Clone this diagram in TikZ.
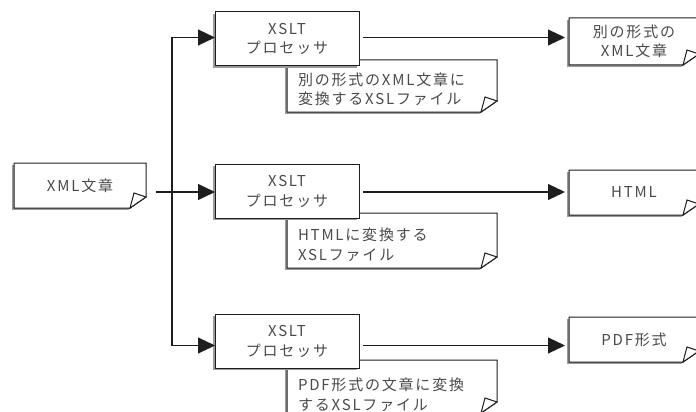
\documentclass[tikz,border=0pt]{standalone}
\usepackage{fontspec}
\newfontfamily\jpf[LetterSpace=12]{Noto Sans CJK JP}
\usetikzlibrary{arrows.meta,calc,shadows}
\definecolor{txtc}{HTML}{4A4A4A}
\definecolor{linec}{HTML}{1E1E1E}
\definecolor{shc}{HTML}{9A9A9A}
\pgfdeclarelayer{bg}
\pgfsetlayers{bg,main}
\newcommand\docframe[2]{%
  \begin{pgfonlayer}{bg}
  \fill[shc] ([shift={(-1.8pt,#2-1.8pt)}]#1.north west) -- ([shift={(-1.8pt,#2-1.8pt)}]#1.north east) -- ([shift={(-1.8pt,9.2pt)}]#1.south east) -- ([shift={(-17.8pt,-1.8pt)}]#1.south east) -- ([shift={(-1.8pt,-1.8pt)}]#1.south west) -- cycle;
  \filldraw[frame] ([yshift=#2]#1.north west) -- ([yshift=#2]#1.north east) -- ([yshift=11pt]#1.south east) -- ([xshift=-16pt]#1.south east) -- (#1.south west) -- cycle;
  \filldraw[frame] ([xshift=-16pt]#1.south east) -- ([shift={(-12pt,15pt)}]#1.south east) -- ([yshift=11pt]#1.south east) -- cycle;
  \end{pgfonlayer}}
\begin{document}
\begin{tikzpicture}[x=1pt,y=-1pt,
  lbl/.style={font=\jpf\fontsize{15}{19.5}\selectfont, text=txtc},
  docnode/.style={lbl, inner sep=0pt, outer sep=0pt, align=center, minimum width=130pt},
  notenode/.style={lbl, inner xsep=11pt, inner ysep=0pt, outer sep=0pt, align=left, text width=188pt},
  proc/.style={lbl, draw=linec, line width=1pt, fill=white, inner sep=0pt, outer sep=0pt,
    minimum width=144pt, minimum height=54pt, align=center,
    drop shadow={shadow xshift=-1.8pt, shadow yshift=-1.8pt, fill=shc, opacity=1}},
  frame/.style={draw=linec, line width=1pt, fill=white, line join=miter},
  conn/.style={draw=linec, line width=1.1pt},
  arr/.style={conn, -{Triangle[length=17pt,width=16pt]}},
]
\useasboundingbox (0,0) rectangle (696,412);

% source document
\node[docnode, minimum width=132pt, minimum height=45pt] (xml) at (80,185.5) {XML文章};
\docframe{xml}{0pt}

% notes (XSL files)
\node[notenode, minimum height=45pt] (n1) at (392,89.5) {別の形式のXML文章に\\変換するXSLファイル};
\docframe{n1}{7pt}
\node[notenode, minimum height=46pt] (n2) at (392,245) {HTMLに変換する\\XSLファイル};
\docframe{n2}{9pt}
\node[notenode, minimum height=36pt] (n3) at (392,395) {PDF形式の文章に変換\\するXSLファイル};
\docframe{n3}{17pt}

% processors
\node[proc] (p1) at (287,39) {XSLT\\プロセッサ};
\node[proc] (p2) at (287,191.5) {XSLT\\プロセッサ};
\node[proc] (p3) at (287,341.5) {XSLT\\プロセッサ};

% outputs
\node[docnode, minimum height=47pt] (o1) at (634,41.5) {別の形式の\\XML文章};
\docframe{o1}{0pt}
\node[docnode, minimum height=45pt] (o2) at (634,192.5) {HTML};
\docframe{o2}{0pt}
\node[docnode, minimum height=45pt] (o3) at (634,339.5) {PDF形式};
\docframe{o3}{0pt}

% connectors
\coordinate (j) at (172,192);
\draw[arr] ([xshift=10pt]xml.east |- j) -- (j) -- (j -| p2.west);
\draw[arr] (j) |- ($(p1.west)+(0,1.5pt)$);
\draw[arr] (j) |- ($(p3.west)+(0,-4pt)$);

\draw[arr, shorten >=4pt] ($(p1.east)+(4pt,1.5pt)$) coordinate (s1) -- (s1 -| o1.west);
\draw[arr, shorten >=4pt] ($(p2.east)+(4pt,-0.5pt)$) coordinate (s2) -- (s2 -| o2.west);
\draw[arr, shorten >=4pt] ($(p3.east)+(4pt,-4pt)$) coordinate (s3) -- (s3 -| o3.west);
\end{tikzpicture}
\end{document}
